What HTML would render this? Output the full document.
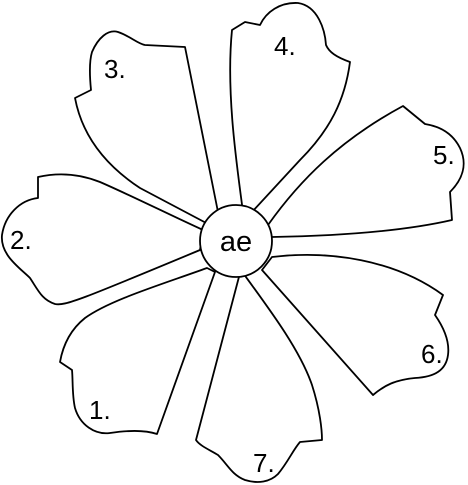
<!DOCTYPE html>
<html><head><meta charset="utf-8"><style>html,body{margin:0;padding:0;background:#fff}svg{display:block}text{font-family:"Liberation Sans",sans-serif;fill:#000}</style></head>
<body>
<svg width="468" height="485" viewBox="0 0 468 485">
<g fill="#fff" stroke="#000" stroke-width="1.8" stroke-linejoin="round">
<path d="M218,212 L185,47 L145,45 C138,44 130,36 118,32 C108,29 98,38 92,52 C89,62 90,80 91,90 L75,98 C82,135 105,165 140,188 L210,225 Z"/>
<path d="M243,212 C236,160 226,90 232,30 L245,22 L260,25 C266,12 280,2 298,3 C318,6 325,30 326,45 C329,52 336,57 350,62 C345,100 330,130 300,160 L252,212 Z"/>
<path d="M268,225 C300,180 340,140 403,106 L425,124 C438,126 452,132 460,148 C468,165 462,180 450,192 L452,220 C400,232 330,236 272,237 Z"/>
<path d="M203,230 C170,215 130,195 100,182 C80,174 60,172 38,177 L38,198 C20,200 5,215 2,235 C0,255 20,268 30,278 C38,290 42,300 55,304 C65,306 80,300 200,250 Z"/>
<path d="M207,268 C160,285 110,300 85,318 C70,330 63,345 60,362 L72,370 C73,380 72,395 75,408 C80,425 95,435 110,433 C130,430 145,430 157,434 L215,272 Z"/>
<path d="M243,273 C270,310 300,350 312,385 C320,410 322,430 322,440 L300,442 C293,450 288,462 278,474 C270,482 258,484 245,480 C232,475 228,465 218,455 C210,450 200,446 196,440 L240,273 Z"/>
<path d="M272,257 C330,250 395,260 443,295 L435,315 C442,325 450,340 448,355 C446,370 435,377 415,378 C395,380 385,385 373,395 L262,270 Z"/>
<circle cx="236" cy="241" r="36"/>
</g>
<text x="236" y="251" font-size="29" text-anchor="middle">ae</text>
<text x="104" y="78" font-size="26">3.</text>
<text x="274" y="55" font-size="26">4.</text>
<text x="433" y="164" font-size="26">5.</text>
<text x="10" y="249" font-size="26">2.</text>
<text x="89" y="419" font-size="26">1.</text>
<text x="421" y="363" font-size="26">6.</text>
<text x="253" y="472" font-size="26">7.</text>
</svg>
</body></html>
